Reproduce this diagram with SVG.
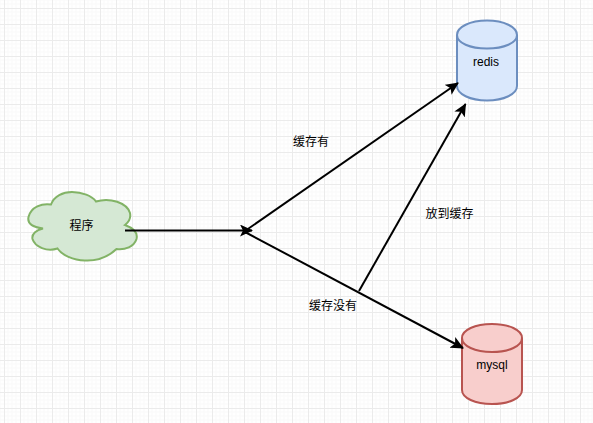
<svg xmlns="http://www.w3.org/2000/svg" width="593" height="423" viewBox="0 0 593 423">
<style>
.lbl{font-family:"Liberation Sans","Noto Sans CJK SC",sans-serif;font-size:12px;fill:#000;text-anchor:middle}
.edge{fill:none;stroke:#000;stroke-width:2;marker-end:url(#arrow)}
.shape{stroke-width:2}
</style>
<defs>
<pattern id="grid" width="16" height="16" patternUnits="userSpaceOnUse" x="4" y="8">
<path d="M4 0V16M8 0V16M12 0V16M0 4H16M0 8H16M0 12H16" fill="none" stroke="#f9f9f9" stroke-width="1"/>
<path d="M0.5 0V16M0 0.5H16" fill="none" stroke="#ebebeb" stroke-width="1"/>
</pattern>
<marker id="arrow" markerUnits="userSpaceOnUse" viewBox="0 0 14 12" refX="12" refY="6" markerWidth="14" markerHeight="12" orient="auto">
<path d="M0 0L13 6L0 12L3 6Z" fill="#000"/>
</marker>
</defs>
<rect width="593" height="423" fill="#fff"/>
<rect width="593" height="423" fill="url(#grid)"/>
<g id="cloud">
<path class="shape" fill="#d5e8d4" stroke="#82b366" d="M51 204.500C54 196 63 192 72 192C82 192 92 196 96 201.500C110 197 127 203 130 213C131 218 129 222 125 225C133 228 138 233 136.500 239C134 247 125 250 116.500 249C108 257 96 261 85 260.500C73 260.500 62 255 57.500 248.500C47 252 35 247 32.500 239C31.500 234 36 230 43 228.500C33 227 27 224 28.500 217C31 207 42 203 51 204.500Z"/>
<text class="lbl" x="81.500" y="230">程序</text>
</g>
<g id="redis">
<path class="shape" fill="#dae8fc" stroke="#6c8ebf" d="M457 35V86C457 94 470 100.500 487 100.500C504 100.500 517 94 517 86V35C517 27 504 20.500 487 20.500C470 20.500 457 27 457 35C457 43 470 48.500 487 48.500C504 48.500 517 43 517 35"/>
<text class="lbl" x="486" y="66">redis</text>
</g>
<g id="mysql">
<path class="shape" fill="#f8cecc" stroke="#b85450" d="M462 338V390C462 398 475 404 492 404C509 404 522 398 522 390V338C522 330 509 324 492 324C475 324 462 330 462 338C462 346 475 352 492 352C509 352 522 346 522 338"/>
<text class="lbl" x="492" y="369">mysql</text>
</g>
<g id="connectors">
<path class="edge" d="M125 230.500H252"/>
<path class="edge" d="M245 231L458 83"/>
<path class="edge" d="M245 232L463 348"/>
<path class="edge" d="M359 291L465.500 104"/>
</g>
<g id="labels">
<text class="lbl" x="311" y="146">缓存有</text>
<text class="lbl" x="449.500" y="218">放到缓存</text>
<text class="lbl" x="333" y="310">缓存没有</text>
</g>
</svg>
